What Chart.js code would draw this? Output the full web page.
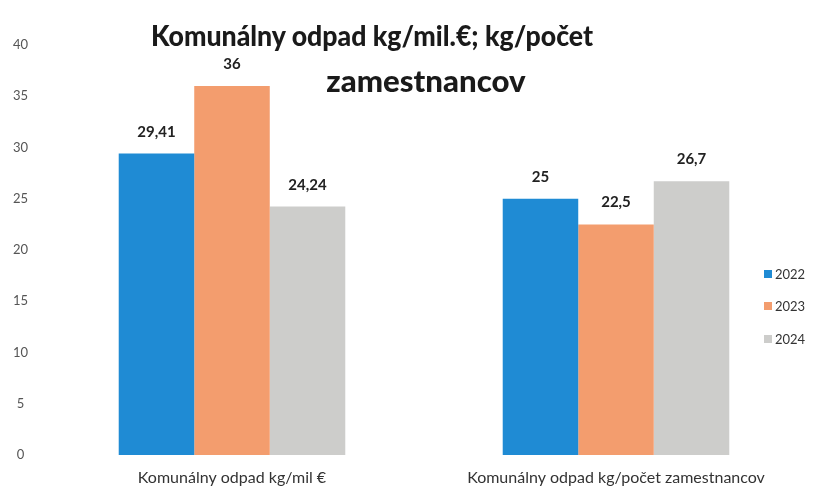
<!DOCTYPE html>
<html>
<head>
<meta charset="utf-8">
<script src="https://cdn.jsdelivr.net/npm/chart.js@4/dist/chart.umd.min.js"></script>
<style>
  html, body { margin: 0; padding: 0; background: #fff; }
  #wrap { position: relative; width: 814px; height: 495px; }
  canvas { position: absolute; left: 0; top: 0; }
  .title { position: absolute; font-family: Lato, "Open Sans", sans-serif; font-weight: 900; color: #1a1a1a; white-space: nowrap; line-height: 1; }
  .leg { position: absolute; font-family: Lato, sans-serif; font-size: 13px; color: #333; white-space: nowrap; line-height: 1; }
  .leg span { display: inline-block; width: 8px; height: 8px; margin-right: 3px; vertical-align: 1px; }
</style>
</head>
<body>
<div id="wrap">
  <canvas id="c" width="814" height="495"></canvas>
  <div class="title" style="left:372px; top:20px; font-size:29px; transform: translateX(-50%) scaleX(0.92);">Komunálny odpad kg/mil.€; kg/počet</div>
  <div class="title" style="left:426px; top:65px; font-size:30px; transform: translateX(-50%) scaleX(1.04);">zamestnancov</div>
  <div id="legend"></div>
</div>
<script>
const categories = ["Komunálny odpad kg/mil €", "Komunálny odpad kg/počet zamestnancov"];
const seriesNames = ["2022", "2023", "2024"];
const values2022 = [29.41, 25];
const values2023 = [36, 22.5];
const values2024 = [24.24, 26.7];
const labels2022 = ["29,41", "25"];
const labels2023 = ["36", "22,5"];
const labels2024 = ["24,24", "26,7"];
const yTicks = [0, 5, 10, 15, 20, 25, 30, 35, 40];
const colors = ["#1f8bd4", "#f39d6e", "#cdcdcb"];

const valueLabels = [labels2022, labels2023, labels2024];

const dataLabelPlugin = {
  id: 'dataLabels',
  afterDatasetsDraw(chart) {
    const ctx = chart.ctx;
    ctx.save();
    ctx.font = 'bold 15px Lato, sans-serif';
    ctx.fillStyle = '#222';
    ctx.textAlign = 'center';
    ctx.textBaseline = 'alphabetic';
    chart.data.datasets.forEach((ds, i) => {
      const meta = chart.getDatasetMeta(i);
      meta.data.forEach((bar, j) => {
        ctx.fillText(valueLabels[i][j], bar.x, bar.y - 17);
      });
    });
    ctx.restore();
  }
};

const chart = new Chart(document.getElementById('c'), {
  type: 'bar',
  data: {
    labels: categories,
    datasets: seriesNames.map((n, i) => ({
      label: n,
      data: [values2022, values2023, values2024][i],
      backgroundColor: colors[i],
      borderWidth: 0,
      categoryPercentage: 0.59,
      barPercentage: 1.0
    }))
  },
  options: {
    responsive: false,
    animation: false,
    layout: { padding: { top: 45, right: 6, bottom: 0, left: 0 } },
    plugins: {
      legend: { display: false },
      title: { display: false },
      tooltip: { enabled: false }
    },
    scales: {
      x: {
        afterFit(scale) { scale.height = 40; },
        grid: { display: false, drawTicks: false },
        border: { display: false },
        ticks: { color: '#333', font: { family: 'Lato, sans-serif', size: 16 }, padding: 13, maxRotation: 0, minRotation: 0, autoSkip: false }
      },
      y: {
        min: 0, max: 40,
        afterBuildTicks(scale) { scale.ticks = yTicks.map(v => ({ value: v })); },
        afterFit(scale) { scale.width = 40; },
        grid: { display: false, drawTicks: false },
        border: { display: false },
        ticks: { color: '#555', font: { family: 'Lato, sans-serif', size: 13 }, padding: 12, crossAlign: 'center' }
      }
    }
  },
  plugins: [dataLabelPlugin]
});

const legend = document.getElementById('legend');
const legTops = [268, 300, 333];
seriesNames.forEach((n, i) => {
  const d = document.createElement('div');
  d.className = 'leg';
  d.style.left = '764px';
  d.style.top = legTops[i] + 'px';
  d.innerHTML = '<span style="background:' + colors[i] + '"></span>' + n;
  legend.appendChild(d);
});
</script>
</body>
</html>
